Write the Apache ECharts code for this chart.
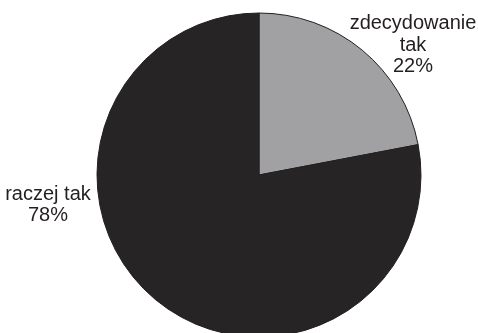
<!DOCTYPE html>
<html>
<head>
<meta charset="utf-8">
<script src="https://cdn.jsdelivr.net/npm/echarts@6/dist/echarts.min.js"></script>
<style>
  html, body { margin: 0; padding: 0; background: #ffffff; }
  #chart { width: 478px; height: 333px; }
</style>
</head>
<body>
<div id="chart"></div>
<script>
// Answer categories and their shares (%)
var categories = ['zdecydowanie\ntak', 'raczej tak'];
var shares = [22, 78];
var sliceColors = ['#a1a1a3', '#262425'];
// Label anchor points (px) for each slice
var labelAnchors = [[413, 45], [48, 205]];

var chart = echarts.init(document.getElementById('chart'), null, { renderer: 'canvas' });

chart.setOption({
  animation: false,
  backgroundColor: '#ffffff',
  series: [{
    type: 'pie',
    center: [259, 175],
    radius: 162,
    startAngle: 90,
    clockwise: true,
    silent: true,
    avoidLabelOverlap: false,
    data: categories.map(function (name, i) {
      return {
        name: name,
        value: shares[i],
        itemStyle: { color: sliceColors[i] }
      };
    }),
    itemStyle: { borderColor: '#231f20', borderWidth: 1 },
    label: {
      show: true,
      position: 'outside',
      alignTo: 'none',
      overflow: 'none',
      formatter: function (p) { return p.name + '\n' + p.value + '%'; },
      fontFamily: 'Liberation Sans, Arial, sans-serif',
      fontSize: 20,
      lineHeight: 21.5,
      color: '#231f20',
      align: 'center'
    },
    labelLine: { show: false },
    labelLayout: function (params) {
      var a = labelAnchors[params.dataIndex];
      return { x: a[0], y: a[1], align: 'center', verticalAlign: 'middle' };
    }
  }]
});
</script>
</body>
</html>
